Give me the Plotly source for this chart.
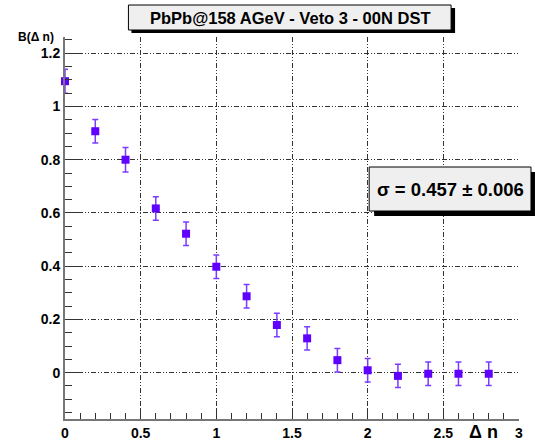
import plotly.graph_objects as go

# Data
delta_n = [0.0, 0.2, 0.4, 0.6, 0.8, 1.0, 1.2, 1.4, 1.6, 1.8, 2.0, 2.2, 2.4, 2.6, 2.8]
b_values = [1.095, 0.907, 0.800, 0.617, 0.522, 0.398, 0.287, 0.179, 0.129, 0.047, 0.009, -0.012, -0.004, -0.004, -0.004]
b_errors = [0.045, 0.044, 0.046, 0.044, 0.044, 0.044, 0.044, 0.044, 0.044, 0.044, 0.044, 0.044, 0.044, 0.044, 0.044]
x_ticks = [0, 0.5, 1, 1.5, 2, 2.5, 3]
x_tick_labels = ["0", "0.5", "1", "1.5", "2", "2.5", "3"]
y_ticks = [0, 0.2, 0.4, 0.6, 0.8, 1.0, 1.2]
y_tick_labels = ["0", "0.2", "0.4", "0.6", "0.8", "1", "1.2"]
title_text = "PbPb@158 AGeV - Veto 3 - 00N DST"
sigma_text = "σ = 0.457 ± 0.006"

W, H = 535, 441
L, R, T, B = 64.5, 16, 37, 22
PW, PH = W - L - R, H - T - B

def px(x):
    return (x - L) / PW

def py(y):
    return (H - B - y) / PH

FONT = "Liberation Sans"
DASH = "5px,2px,1px,2px,1px,2px"

fig = go.Figure()
fig.add_trace(go.Scatter(
    x=delta_n, y=b_values, mode="markers",
    marker=dict(symbol="square", size=8, color="#6000ff"),
    error_y=dict(type="data", array=b_errors, color="#7a3cff", thickness=1.5, width=3),
    showlegend=False, cliponaxis=False,
))

axis_common = dict(
    showline=True, linecolor="#777777", linewidth=2, mirror=False,
    ticks="inside", tickcolor="#333333", tickwidth=1,
    showgrid=True, gridcolor="#333333", gridwidth=1, griddash=DASH,
    zeroline=False, automargin=False,
    tickfont=dict(family=FONT, size=14, color="black", weight="bold"),
)

fig.update_xaxes(
    range=[0, 3], tickvals=x_ticks, ticktext=x_tick_labels, ticklen=11,
    minor=dict(dtick=0.1, ticks="inside", ticklen=6, tickcolor="#333333", showgrid=False),
    **axis_common,
)
fig.update_yaxes(
    range=[-0.174, 1.261], tickvals=y_ticks, ticktext=y_tick_labels, ticklen=14,
    minor=dict(dtick=0.05, ticks="inside", ticklen=7, tickcolor="#333333", showgrid=False),
    **axis_common,
)

shapes = []
# title box with shadow
shapes.append(dict(type="rect", xref="paper", yref="paper", x0=px(131), x1=px(455), y0=py(33), y1=py(8),
                   fillcolor="black", line=dict(width=0), layer="above"))
shapes.append(dict(type="rect", xref="paper", yref="paper", x0=px(128), x1=px(451), y0=py(30), y1=py(5),
                   fillcolor="#efefef", line=dict(color="black", width=1), layer="above"))
# sigma box with shadow
shapes.append(dict(type="rect", xref="paper", yref="paper", x0=px(374), x1=px(535), y0=py(216), y1=py(172),
                   fillcolor="black", line=dict(width=0), layer="above"))
shapes.append(dict(type="rect", xref="paper", yref="paper", x0=px(369), x1=px(531), y0=py(211), y1=py(167),
                   fillcolor="#efefef", line=dict(color="black", width=1), layer="above"))

annotations = [
    dict(text=title_text, xref="paper", yref="paper", x=px(289.5), y=py(17.5), showarrow=False,
         xanchor="center", yanchor="middle", font=dict(family=FONT, size=16.5, color="black", weight="bold")),
    dict(text=sigma_text, xref="paper", yref="paper", x=px(450), y=py(189), showarrow=False,
         xanchor="center", yanchor="middle", font=dict(family=FONT, size=18.5, color="black", weight="bold")),
    dict(text="B(Δ n)", xref="paper", yref="paper", x=px(15), y=py(37), showarrow=False,
         xanchor="left", yanchor="middle", font=dict(family=FONT, size=12, color="black", weight="bold")),
    dict(text="Δ n", xref="paper", yref="paper", x=px(483), y=py(432), showarrow=False,
         xanchor="center", yanchor="middle", font=dict(family=FONT, size=18, color="black", weight="bold")),
]

fig.update_layout(
    width=W, height=H,
    margin=dict(l=L, r=R, t=T, b=B, pad=0),
    paper_bgcolor="white", plot_bgcolor="white",
    shapes=shapes, annotations=annotations,
    font=dict(family=FONT),
)

fig.write_html("out.html")
